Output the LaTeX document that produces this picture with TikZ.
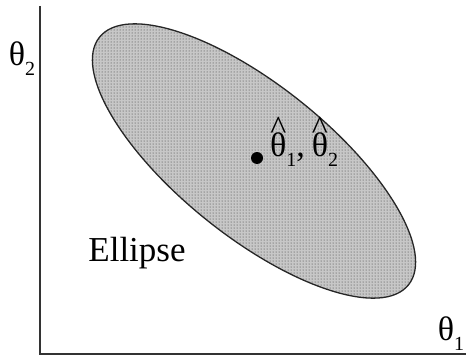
\documentclass[tikz,border=0pt]{standalone}
\usepackage{fontspec}
\setmainfont{Liberation Serif}
\usetikzlibrary{patterns}
\newcommand\hatth{\ooalign{θ\cr\hidewidth\raisebox{0.5em}{\^{}}\hidewidth\cr}}
\newcommand\subsc[1]{\raisebox{-0.3em}{\fontsize{20}{20}\selectfont #1}}
\tikzset{
  axisline/.style={line width=1.4pt, draw=black!80},
  lbl/.style={inner sep=0pt, font=\fontsize{34}{36}\selectfont},
}
\begin{document}
\begin{tikzpicture}[x=1pt,y=1pt]
\useasboundingbox (0,0) rectangle (466,357);
% ellipse
\path[fill=black!22] (254,196) ellipse [x radius=198, y radius=75.6, rotate=-38.7];
\path[pattern=dots, pattern color=black!80] (254,196) ellipse [x radius=198, y radius=75.6, rotate=-38.7];
\draw[line width=1.3pt, black!85] (254,196) ellipse [x radius=198, y radius=75.6, rotate=-38.7];
% axes
\coordinate (top) at (40,351);
\coordinate (origin) at (40,3);
\coordinate (right) at (466,3);
\draw[axisline] (top) -- (origin) -- (right);
% point estimate
\node[circle, fill=black, inner sep=0pt, minimum size=12pt] (dot) at (257,199) {};
\node[lbl, font=\fontsize{34}{36}\selectfont, anchor=west] (est) at (270,207) {\hatth\subsc{1},\hspace{0.2em}\hatth\subsc{2}};
% labels
\node[lbl] (th2) at (22,298) {θ\subsc{2}};
\node[lbl] (th1) at (451,23) {θ\subsc{1}};
\node[inner sep=0pt, font=\fontsize{35}{36}\selectfont] (ell) at (137,104) {Ellipse};
\end{tikzpicture}
\end{document}
